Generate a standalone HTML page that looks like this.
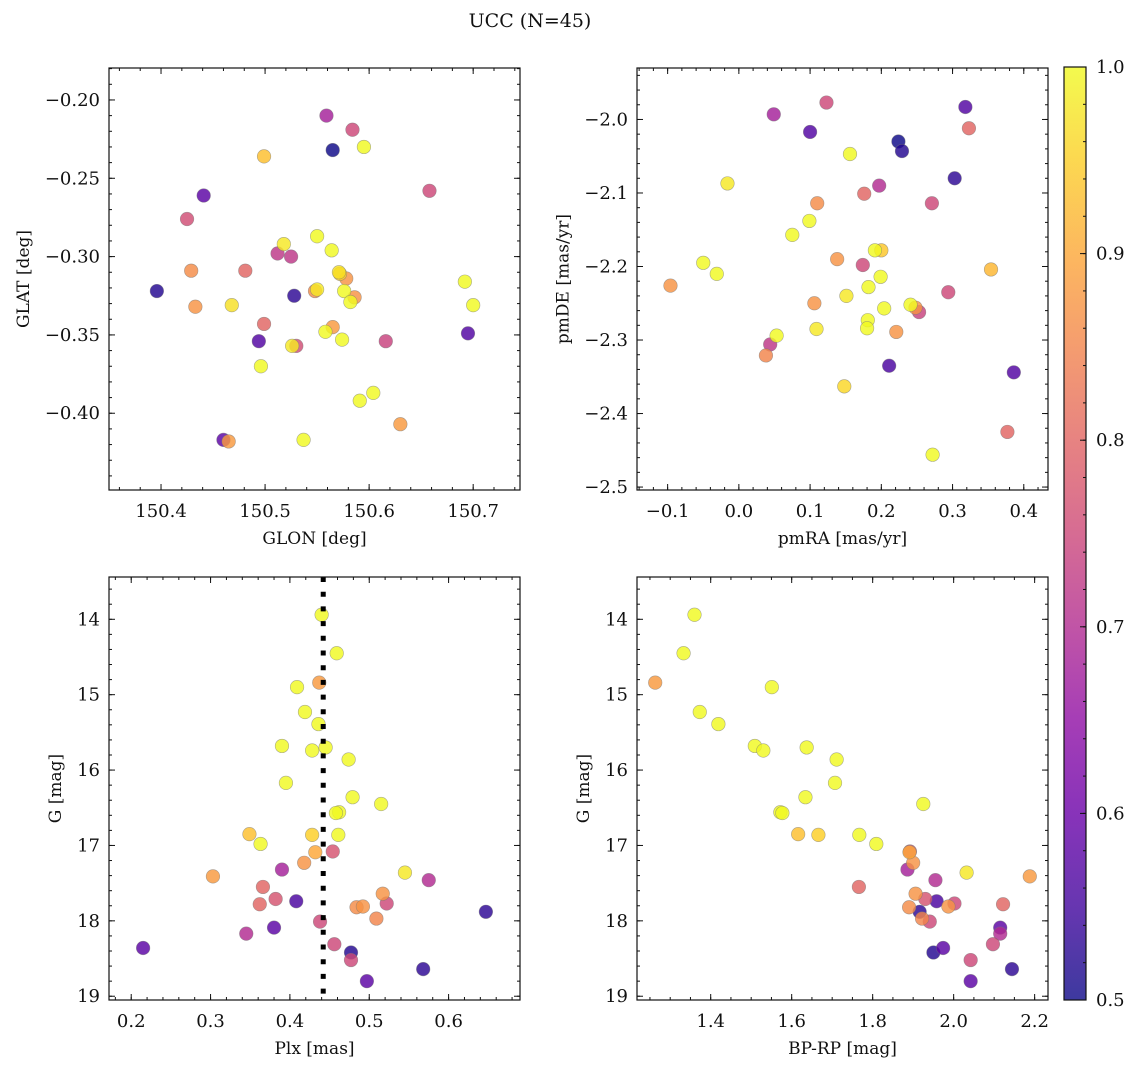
<!DOCTYPE html>
<html><head><meta charset="utf-8"><style>
html,body{margin:0;padding:0;background:#fff;}
svg text{font-family:"DejaVu Serif","Liberation Serif",serif;fill:#111;}
</style></head><body>
<svg id="fig" width="1136" height="1067" viewBox="0 0 1136 1067" xmlns="http://www.w3.org/2000/svg">
<defs>
<linearGradient id="cbgrad" x1="0" y1="1" x2="0" y2="0">
<stop offset="0" stop-color="#0d0887"/><stop offset="0.1" stop-color="#41049d"/><stop offset="0.2" stop-color="#6a00a8"/><stop offset="0.3" stop-color="#8f0da4"/><stop offset="0.4" stop-color="#b12a90"/><stop offset="0.5" stop-color="#cc4778"/><stop offset="0.6" stop-color="#e16462"/><stop offset="0.7" stop-color="#f2844b"/><stop offset="0.8" stop-color="#fca636"/><stop offset="0.9" stop-color="#fcce25"/><stop offset="1" stop-color="#f0f921"/>
</linearGradient>
</defs>
<text x="530" y="27" font-size="19" text-anchor="middle">UCC (N=45)</text>
</svg>
<script>
// ---- Panel 1: sky positions ----
const glon = [150.559,150.584,150.565,150.595,150.499,150.658,150.441,150.425,150.550,150.518,150.564,150.512,150.525,150.429,150.481,150.572,150.578,150.692,150.396,150.548,150.550,150.576,150.528,150.586,150.433,150.468,150.582,150.700,150.499,150.695,150.565,150.558,150.494,150.574,150.616,150.530,150.526,150.496,150.604,150.591,150.630,150.460,150.465,150.537,150.571];
const glat = [-0.210,-0.219,-0.232,-0.230,-0.236,-0.258,-0.261,-0.276,-0.287,-0.292,-0.296,-0.298,-0.300,-0.309,-0.309,-0.311,-0.314,-0.316,-0.322,-0.322,-0.321,-0.322,-0.325,-0.326,-0.332,-0.331,-0.329,-0.331,-0.343,-0.349,-0.345,-0.348,-0.354,-0.353,-0.354,-0.357,-0.357,-0.370,-0.387,-0.392,-0.407,-0.417,-0.418,-0.417,-0.310];
const probSky = [0.68,0.75,0.5,1.0,0.93,0.75,0.58,0.76,1.0,0.98,1.0,0.72,0.72,0.86,0.8,0.95,0.87,1.0,0.52,0.86,0.98,1.0,0.53,0.87,0.87,0.97,1.0,1.0,0.8,0.57,0.88,1.0,0.57,1.0,0.74,0.76,0.98,1.0,1.0,1.0,0.88,0.58,0.88,1.0,0.97];
// ---- Panel 2: proper motions ----
const pmra = [0.049,0.123,0.318,0.323,0.100,0.224,0.229,0.156,0.303,-0.016,0.197,0.176,0.271,0.110,0.099,0.075,0.200,0.191,0.138,-0.050,0.174,0.354,-0.031,0.199,-0.096,0.182,0.294,0.151,0.106,0.204,0.253,0.248,0.241,0.181,0.180,0.109,0.221,0.053,0.044,0.038,0.211,0.386,0.148,0.377,0.272];
const pmde = [-1.993,-1.977,-1.983,-2.012,-2.017,-2.030,-2.043,-2.047,-2.080,-2.087,-2.090,-2.101,-2.114,-2.114,-2.138,-2.157,-2.178,-2.178,-2.190,-2.195,-2.198,-2.204,-2.210,-2.214,-2.226,-2.228,-2.235,-2.240,-2.250,-2.257,-2.262,-2.256,-2.252,-2.273,-2.284,-2.285,-2.289,-2.294,-2.306,-2.321,-2.335,-2.344,-2.363,-2.425,-2.456];
const probPm = [0.68,0.75,0.57,0.8,0.57,0.5,0.52,1.0,0.53,0.98,0.7,0.8,0.75,0.86,1.0,1.0,0.94,1.0,0.87,1.0,0.75,0.92,1.0,1.0,0.87,1.0,0.75,0.98,0.87,1.0,0.74,0.87,1.0,1.0,1.0,0.98,0.87,1.0,0.72,0.85,0.56,0.57,0.96,0.8,1.0];
// ---- Panels 3 & 4: photometry ----
const plx = [0.440,0.459,0.437,0.409,0.419,0.436,0.390,0.428,0.445,0.474,0.395,0.479,0.515,0.462,0.458,0.349,0.428,0.461,0.363,0.454,0.432,0.418,0.390,0.545,0.303,0.575,0.366,0.517,0.382,0.408,0.362,0.522,0.484,0.492,0.647,0.509,0.438,0.380,0.345,0.215,0.456,0.477,0.477,0.568,0.497];
const gmag = [13.94,14.45,14.84,14.90,15.23,15.39,15.68,15.74,15.70,15.86,16.17,16.36,16.45,16.56,16.57,16.85,16.86,16.86,16.98,17.08,17.09,17.23,17.32,17.36,17.41,17.46,17.55,17.64,17.71,17.74,17.78,17.77,17.82,17.81,17.88,17.97,18.01,18.09,18.17,18.36,18.31,18.42,18.52,18.64,18.80];
const bprp = [1.360,1.333,1.263,1.551,1.373,1.419,1.509,1.530,1.637,1.711,1.707,1.634,1.925,1.572,1.577,1.616,1.666,1.767,1.809,1.892,1.891,1.900,1.886,2.032,2.188,1.955,1.766,1.906,1.930,1.958,2.122,2.002,1.890,1.987,1.916,1.922,1.941,2.115,2.115,1.974,2.097,1.950,2.042,2.144,2.042];
const probPhot = [1.0,1.0,0.88,1.0,1.0,1.0,1.0,1.0,1.0,1.0,1.0,1.0,1.0,1.0,1.0,0.93,0.95,1.0,1.0,0.77,0.9,0.87,0.68,0.98,0.88,0.7,0.8,0.87,0.77,0.56,0.8,0.75,0.86,0.87,0.53,0.85,0.75,0.58,0.7,0.58,0.75,0.52,0.75,0.53,0.58];
const plxMedian = [0.442];
// tick labels
const ticksGlon = ["150.4","150.5","150.6","150.7"];
const ticksGlat = ["-0.20","-0.25","-0.30","-0.35","-0.40"];
const ticksPmra = ["-0.1","0.0","0.1","0.2","0.3","0.4"];
const ticksPmde = ["-2.0","-2.1","-2.2","-2.3","-2.4","-2.5"];
const ticksPlx = ["0.2","0.3","0.4","0.5","0.6"];
const ticksG = ["14","15","16","17","18","19"];
const ticksBprp = ["1.4","1.6","1.8","2.0","2.2"];
const ticksCb = ["0.5","0.6","0.7","0.8","0.9","1.0"];

const NS = "http://www.w3.org/2000/svg";
const svg = document.getElementById('fig');
function mk(tag, attrs, parent){const e=document.createElementNS(NS,tag);for(const k in attrs)e.setAttribute(k,attrs[k]);(parent||svg).appendChild(e);return e;}
const stops=[[13,8,135],[65,4,157],[106,0,168],[143,13,164],[177,42,144],[204,71,120],[225,100,98],[242,132,75],[252,166,54],[252,206,37],[240,249,33]];
function cmap(p){let t=(p-0.5)/0.5;t=Math.max(0,Math.min(1,t))*10;const i=Math.min(9,Math.floor(t)),f=t-i;const a=stops[i],b=stops[i+1];return `rgb(${Math.round(a[0]+(b[0]-a[0])*f)},${Math.round(a[1]+(b[1]-a[1])*f)},${Math.round(a[2]+(b[2]-a[2])*f)})`;}
function fmt(s){return s.replace('-','\u2212');}

function panel(o){
  const g=mk('g',{});
  
  
  const sx=v=>o.x0+(v-o.xmin)/(o.xmax-o.xmin)*(o.x1-o.x0);
  const sy=v=>o.inv ? o.y0+(v-o.ymin)/(o.ymax-o.ymin)*(o.y1-o.y0) : o.y1-(v-o.ymin)/(o.ymax-o.ymin)*(o.y1-o.y0);
  const tg=mk('g',{stroke:'#111','stroke-width':1},g);
  
  
  for(let v=o.xminorStart; v<=o.xmax+1e-9; v+=o.xminor){const X=sx(v);if(X<o.x0-0.5||X>o.x1+0.5)continue;
    mk('line',{x1:X,x2:X,y1:o.y1,y2:o.y1-3},tg);mk('line',{x1:X,x2:X,y1:o.y0,y2:o.y0+3},tg);}
  o.xticks.forEach((lab,i)=>{const X=sx(parseFloat(lab));
    mk('line',{x1:X,x2:X,y1:o.y1,y2:o.y1-6},tg);mk('line',{x1:X,x2:X,y1:o.y0,y2:o.y0+6},tg);
    const t=mk('text',{x:X,y:o.y1+27,'font-size':18,'text-anchor':'middle'},g);t.textContent=fmt(lab);
    
    });
  for(let v=o.yminorStart; v<=o.ymax+1e-9; v+=o.yminor){const Y=sy(v);if(Y<o.y0-0.5||Y>o.y1+0.5)continue;
    mk('line',{x1:o.x0,x2:o.x0+3,y1:Y,y2:Y},tg);mk('line',{x1:o.x1,x2:o.x1-3,y1:Y,y2:Y},tg);}
  let minx=o.x0;
  o.yticks.forEach(lab=>{const Y=sy(parseFloat(lab));
    mk('line',{x1:o.x0,x2:o.x0+6,y1:Y,y2:Y},tg);mk('line',{x1:o.x1,x2:o.x1-6,y1:Y,y2:Y},tg);
    const t=mk('text',{x:o.x0-9,y:Y+6,'font-size':18,'text-anchor':'end'},g);t.textContent=fmt(lab);
    
    
    try{const bb=t.getBBox();if(bb.width>0)minx=Math.min(minx,bb.x);}catch(e){}});
  const pg=mk('g',{},g);
  
  
  const idx=o.xs.map((_,i)=>i).sort((a,b)=>o.ps[a]-o.ps[b]);
  idx.forEach(i=>{const c=mk('circle',{cx:sx(o.xs[i]),cy:sy(o.ys[i]),r:6.8,fill:cmap(o.ps[i]),'fill-opacity':0.82,stroke:'#777','stroke-opacity':0.6,'stroke-width':0.6},pg);
    
    });
  if(o.vline!==undefined){const X=sx(o.vline);const l=mk('line',{x1:X,x2:X,y1:o.y0,y2:o.y1,stroke:'#000','stroke-width':5,'stroke-dasharray':'5,9.7'},g);
    
    }
  const fr=mk('rect',{x:o.x0,y:o.y0,width:o.x1-o.x0,height:o.y1-o.y0,fill:'none',stroke:'#111','stroke-width':1.2},g);
  
  
  const xl=mk('text',{x:(o.x0+o.x1)/2,y:o.y1+54,'font-size':17,'text-anchor':'middle'},g);xl.textContent=o.xlabel;
  
  
  const yx=minx-16, yy=(o.y0+o.y1)/2;
  const yl=mk('text',{x:yx,y:yy,'font-size':17,'text-anchor':'middle',transform:`rotate(-90 ${yx} ${yy})`},g);yl.textContent=o.ylabel;
  
  
}

panel({name:'sky-panel',x0:109,x1:520,y0:68,y1:490,xmin:150.35,xmax:150.745,ymin:-0.449,ymax:-0.1796,
  xs:glon,ys:glat,ps:probSky,xticks:ticksGlon,yticks:ticksGlat,xminor:0.02,xminorStart:150.36,yminor:0.01,yminorStart:-0.44,
  xlabel:'GLON [deg]',ylabel:'GLAT [deg]'});
panel({name:'pm-panel',x0:637,x1:1048,y0:68,y1:490,xmin:-0.143,xmax:0.434,ymin:-2.504,ymax:-1.930,
  xs:pmra,ys:pmde,ps:probPm,xticks:ticksPmra,yticks:ticksPmde,xminor:0.02,xminorStart:-0.14,yminor:0.02,yminorStart:-2.5,
  xlabel:'pmRA [mas/yr]',ylabel:'pmDE [mas/yr]'});
panel({name:'plx-cmd-panel',x0:109,x1:520,y0:577,y1:1000,xmin:0.172,xmax:0.690,ymin:13.439,ymax:19.05,inv:true,
  xs:plx,ys:gmag,ps:probPhot,xticks:ticksPlx,yticks:ticksG,xminor:0.02,xminorStart:0.18,yminor:0.2,yminorStart:13.6,
  xlabel:'Plx [mas]',ylabel:'G [mag]',vline:plxMedian[0]});
panel({name:'cmd-panel',x0:637,x1:1048,y0:577,y1:1000,xmin:1.218,xmax:2.233,ymin:13.439,ymax:19.05,inv:true,
  xs:bprp,ys:gmag,ps:probPhot,xticks:ticksBprp,yticks:ticksG,xminor:0.05,xminorStart:1.25,yminor:0.2,yminorStart:13.6,
  xlabel:'BP-RP [mag]',ylabel:'G [mag]'});

const cb=mk('g',{});


const cx0=1064,cx1=1086,cy0=67,cy1=1000;
mk('rect',{x:cx0,y:cy0,width:cx1-cx0,height:cy1-cy0,fill:'url(#cbgrad)','fill-opacity':0.8},cb);
const cby=v=>cy1-(v-0.5)/0.5*(cy1-cy0);
for(let v=0.52; v<1.0; v+=0.02){const Y=cby(v);mk('line',{x1:cx1,x2:cx1-3,y1:Y,y2:Y,stroke:'#111'},cb);}
ticksCb.forEach(lab=>{const Y=cby(parseFloat(lab));mk('line',{x1:cx1,x2:cx1-6,y1:Y,y2:Y,stroke:'#111'},cb);
  const t=mk('text',{x:cx1+10,y:Y+6,'font-size':18},cb);t.textContent=lab;
  
  });
mk('rect',{x:cx0,y:cy0,width:cx1-cx0,height:cy1-cy0,fill:'none',stroke:'#111','stroke-width':1.2},cb);
</script>
</body></html>
